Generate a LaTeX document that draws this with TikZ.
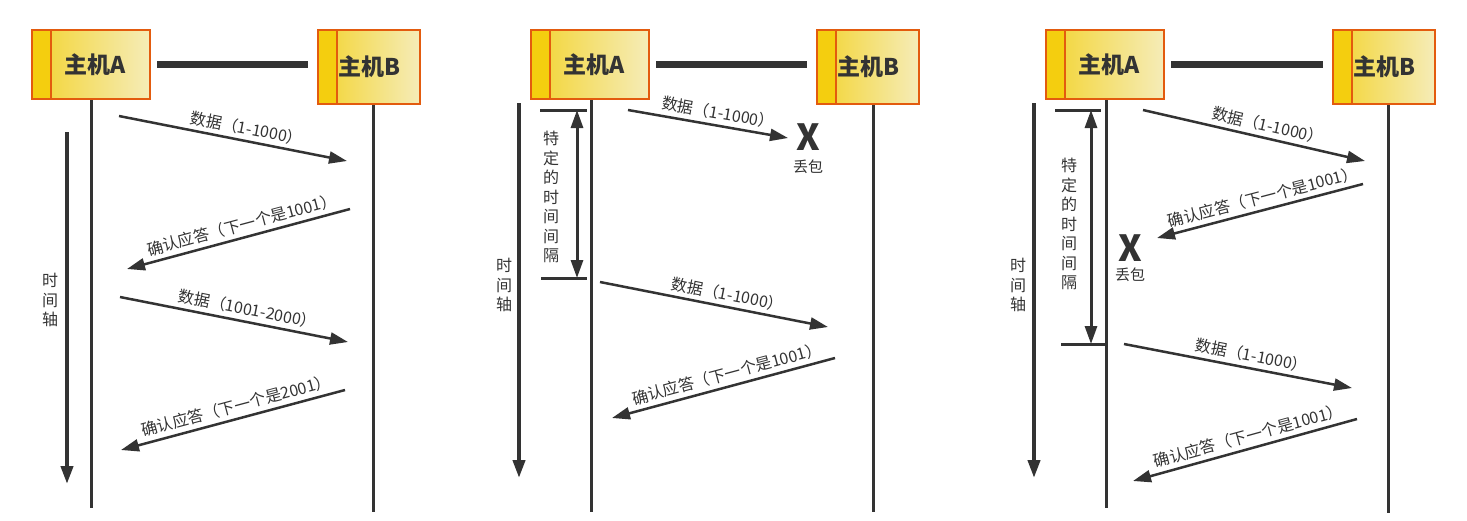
\documentclass[tikz,border=0pt]{standalone}
\usepackage{fontspec}
\setmainfont{Noto Sans CJK SC}
\usetikzlibrary{arrows.meta}
\definecolor{linegray}{HTML}{333333}
\definecolor{hostorange}{HTML}{E35B0E}
\definecolor{hoststripe}{HTML}{F4CE0F}
\definecolor{hostyelA}{HTML}{F3D430}
\definecolor{hostyelB}{HTML}{F5ECB8}
\begin{document}
\begin{tikzpicture}[x=1pt,y=-1pt]
  \tikzset{host/.style={draw=hostorange,line width=2pt,left color=hostyelA,right color=hostyelB,
      inner sep=0pt,text=linegray,font=\fontsize{23}{26}\selectfont\bfseries,
      path picture={\fill[hoststripe] (path picture bounding box.north west) rectangle ([xshift=19pt]path picture bounding box.south west);
        \draw[hostorange,line width=2pt] ([xshift=19pt]path picture bounding box.north west) -- ([xshift=19pt]path picture bounding box.south west);}},
    hostA/.style={host,minimum width=118pt,minimum height=69pt},
    hostB/.style={host,minimum width=102pt,minimum height=74pt},
    link/.style={linegray,line width=7pt},
    life/.style={linegray,line width=3pt},
    timeax/.style={linegray,line width=4pt,-{Triangle[length=18pt,width=12pt]}},
    msg/.style={linegray,line width=2.5pt,-{Triangle[length=18pt,width=12pt]}},
    msglabel/.style={sloped,above=3pt,pos=0.55,inner sep=1pt,text=linegray,font=\fontsize{16}{18}\selectfont},
    acklabel/.style={msglabel,pos=0.47},
    vlabel/.style={align=center,text=linegray,inner sep=0pt,font=\fontsize{16}{19.5}\selectfont},
    tick/.style={linegray,line width=3pt},
    interval/.style={linegray,line width=3pt,{Triangle[length=18pt,width=12pt]}-{Triangle[length=18pt,width=12pt]}},
    lossx/.style={text=linegray,inner sep=0pt,font=\fontsize{36}{36}\selectfont\bfseries},
    losslabel/.style={text=linegray,inner sep=0pt,font=\fontsize{15}{17}\selectfont}}
  \useasboundingbox[fill=white] (0,0) rectangle (1467,520);

  % panel 1
  \node[hostA] (hA1) at (91,64.5) {\hspace{8pt}主机A};
  \node[hostB] (hB1) at (369,67) {主机B};
  \draw[link] ([xshift=6pt]hA1.east) -- ([xshift=-9pt]hA1.east -| hB1.west);
  \coordinate (eA1) at (91,508); \coordinate (eB1) at (373,512);
  \draw[life] (hA1) -- (eA1);
  \draw[life] (hB1.south -| eB1) -- (eB1);
  \coordinate (t1s) at (67,132); \coordinate (t1e) at (67,484);
  \draw[timeax] (t1s) -- (t1e);
  \node[vlabel] (tl1) at (50,300) {时\\间\\轴};
  \coordinate (m11s) at (119,116); \coordinate (m11e) at (347,161);
  \coordinate (m12s) at (350,209); \coordinate (m12e) at (127,269);
  \coordinate (m13s) at (120,297); \coordinate (m13e) at (348,342);
  \coordinate (m14s) at (345,390); \coordinate (m14e) at (121,450);
  \draw[msg] (m11s) -- node[msglabel] (l11) {数据（1-1000）} (m11e);
  \draw[msg] (m12s) -- node[acklabel] (l12) {确认应答（下一个是1001）} (m12e);
  \draw[msg] (m13s) -- node[msglabel] (l13) {数据（1001-2000）} (m13e);
  \draw[msg] (m14s) -- node[acklabel] (l14) {确认应答（下一个是2001）} (m14e);

  % panel 2
  \node[hostA] (hA2) at (590,64.5) {\hspace{8pt}主机A};
  \node[hostB] (hB2) at (868,67) {主机B};
  \draw[link] ([xshift=6pt]hA2.east) -- ([xshift=-9pt]hA2.east -| hB2.west);
  \coordinate (eA2) at (591,512); \coordinate (eB2) at (873,512);
  \draw[life] (hA2.south -| eA2) -- (eA2);
  \draw[life] (hB2.south -| eB2) -- (eB2);
  \coordinate (t2s) at (519,103); \coordinate (t2e) at (519,478);
  \draw[timeax] (t2s) -- (t2e);
  \node[vlabel] (tl2) at (504,285) {时\\间\\轴};
  \coordinate (i2a) at (540,110); \coordinate (i2b) at (587,110);
  \coordinate (i2c) at (541,278); \coordinate (i2d) at (587,278);
  \coordinate (i2u) at (577,110); \coordinate (i2v) at (577,278);
  \draw[tick] (i2a) -- (i2b);
  \draw[tick] (i2c) -- (i2d);
  \draw[interval] (i2u) -- (i2v);
  \node[vlabel] (il2) at (551,197) {特\\定\\的\\时\\间\\间\\隔};
  \coordinate (m21s) at (628,110); \coordinate (m21e) at (788,138);
  \coordinate (m22s) at (600,282); \coordinate (m22e) at (828,327);
  \coordinate (m23s) at (835,358); \coordinate (m23e) at (612,418);
  \draw[msg] (m21s) -- node[msglabel] (l21) {数据（1-1000）} (m21e);
  \draw[msg] (m22s) -- node[msglabel] (l22) {数据（1-1000）} (m22e);
  \draw[msg] (m23s) -- node[acklabel] (l23) {确认应答（下一个是1001）} (m23e);
  \node[lossx] (x2) at (808,137) {X};
  \node[losslabel] (xl2) at (808,167) {丢包};

  % panel 3
  \node[hostA] (hA3) at (1105,64.5) {\hspace{8pt}主机A};
  \node[hostB] (hB3) at (1384,67) {主机B};
  \draw[link] ([xshift=6pt]hA3.east) -- ([xshift=-9pt]hA3.east -| hB3.west);
  \coordinate (eA3) at (1106,508); \coordinate (eB3) at (1388,513);
  \draw[life] (hA3.south -| eA3) -- (eA3);
  \draw[life] (hB3.south -| eB3) -- (eB3);
  \coordinate (t3s) at (1034,103); \coordinate (t3e) at (1034,478);
  \draw[timeax] (t3s) -- (t3e);
  \node[vlabel] (tl3) at (1018,285) {时\\间\\轴};
  \coordinate (i3a) at (1055,110); \coordinate (i3b) at (1101,110);
  \coordinate (i3c) at (1061,344); \coordinate (i3d) at (1106,344);
  \coordinate (i3u) at (1091,110); \coordinate (i3v) at (1091,344);
  \draw[tick] (i3a) -- (i3b);
  \draw[tick] (i3c) -- (i3d);
  \draw[interval] (i3u) -- (i3v);
  \node[vlabel] (il3) at (1069,224) {特\\定\\的\\时\\间\\间\\隔};
  \coordinate (m31s) at (1143,110); \coordinate (m31e) at (1365,161);
  \coordinate (m32s) at (1363,184); \coordinate (m32e) at (1157,238);
  \coordinate (m33s) at (1124,344); \coordinate (m33e) at (1352,388);
  \coordinate (m34s) at (1357,419); \coordinate (m34e) at (1133,481);
  \draw[msg] (m31s) -- node[msglabel] (l31) {数据（1-1000）} (m31e);
  \draw[msg] (m32s) -- node[acklabel] (l32) {确认应答（下一个是1001）} (m32e);
  \draw[msg] (m33s) -- node[msglabel] (l33) {数据（1-1000）} (m33e);
  \draw[msg] (m34s) -- node[acklabel] (l34) {确认应答（下一个是1001）} (m34e);
  \node[lossx] (x3) at (1130,248) {X};
  \node[losslabel] (xl3) at (1130,275) {丢包};
\end{tikzpicture}
\end{document}
